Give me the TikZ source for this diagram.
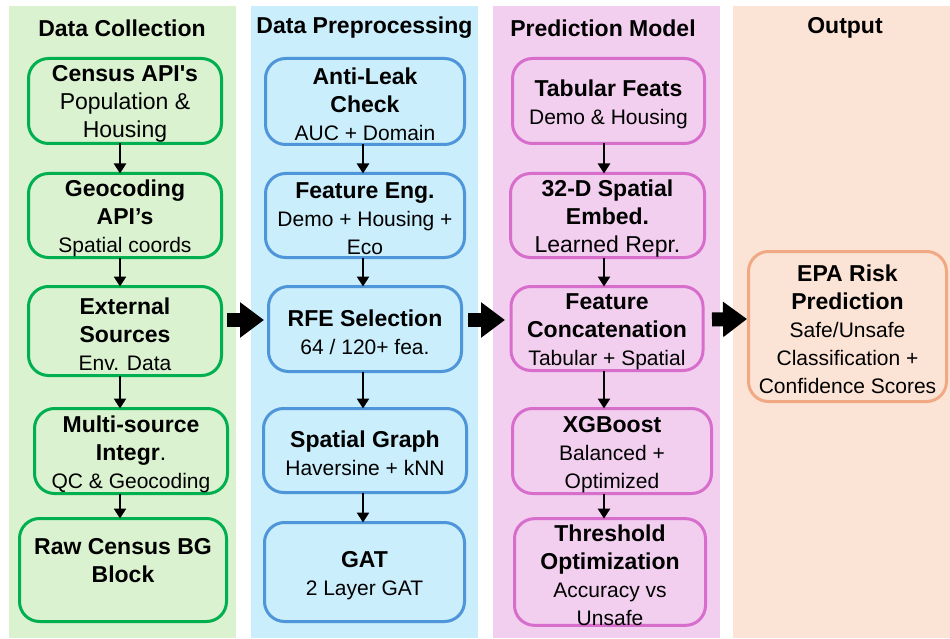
\documentclass[tikz,border=0pt]{standalone}
\usepackage{fontspec}
\newfontfamily\arial{Liberation Sans}
\usetikzlibrary{arrows.meta,calc}
\definecolor{gfill}{HTML}{DAF2D0}
\definecolor{gline}{HTML}{00B050}
\definecolor{bfill}{HTML}{CAEEFB}
\definecolor{bline}{HTML}{4E95D9}
\definecolor{pfill}{HTML}{F2CEEF}
\definecolor{pline}{HTML}{D86ECC}
\definecolor{ofill}{HTML}{FBE3D6}
\definecolor{oline}{HTML}{F1A983}
\newcommand{\hb}[1]{{\bfseries\fontsize{23}{28}\selectfont\rule{0pt}{22.5pt}#1}}
\newcommand{\lgt}[1]{{\fontsize{23}{28}\selectfont #1}}
\tikzset{
  colbg/.style={fill=#1, draw=none},
  box/.style={draw=#1, line width=3pt, rounded corners=20pt, align=center,
    inner sep=0pt, outer sep=0pt, font=\arial\fontsize{21}{28}\selectfont},
  ttl/.style={font=\arial\bfseries\fontsize{23}{27}\selectfont, inner sep=0pt},
  arr/.style={line width=2.5pt, -{Triangle[length=10pt,width=12pt]}},
  big/.style={line width=14pt, -{Triangle[length=24pt,width=34pt]}},
}
\begin{document}
\begin{tikzpicture}[x=1pt,y=-1pt]
\useasboundingbox (0,0) rectangle (950,639);
% column backgrounds
\fill[colbg=gfill] (9,6) rectangle (236,638);
\fill[colbg=bfill] (251,6) rectangle (478,638);
\fill[colbg=pfill] (493,6) rectangle (720,638);
\fill[colbg=ofill] (733,6) rectangle (950,638);
% titles
\node[ttl] (t1) at (122,28) {Data Collection};
\node[ttl] (t2) at (364.5,28) {Data Preprocessing};
\node[ttl] (t3) at (603,28) {Prediction Model};
\node[ttl] (t4) at (845,28) {Output};
% column 1
\node[box=gline, minimum width=193pt, minimum height=85pt] (c1) at (125,101) {\hb{Census API's}\\\lgt{Population \&}\\\lgt{Housing}};
\node[box=gline, minimum width=193pt, minimum height=84pt] (c2) at (125,215.5) {\hb{Geocoding}\\\hb{API’s}\\Spatial coords};
\node[box=gline, minimum width=193pt, minimum height=89pt] (c3) at (125,331) {\hb{External}\\\hb{Sources}\\Env. Data};
\node[box=gline, minimum width=193pt, minimum height=85pt] (c4) at (131,451) {\hb{Multi-source}\\\hb{Integr}\lgt{.}\\QC \& Geocoding};
\node[box=gline, minimum width=207pt, minimum height=103pt] (c5) at (123,570) {\hb{Raw Census BG}\\\hb{Block}\rule[-25pt]{0pt}{0pt}};
% column 2
\node[box=bline, minimum width=199pt, minimum height=86pt] (p1) at (365,101.5) {\hb{Anti-Leak}\\\hb{Check}\\AUC + Domain};
\node[box=bline, minimum width=199pt, minimum height=84pt] (p2) at (365,215.5) {\hb{Feature Eng.}\\Demo + Housing +\\Eco};
\node[box=bline, minimum width=193pt, minimum height=85pt] (p3) at (365,329) {\hb{RFE Selection}\\64 / 120+ fea.};
\node[box=bline, minimum width=203pt, minimum height=84pt] (p4) at (365,450.5) {\hb{Spatial Graph}\\Haversine + kNN};
\node[box=bline, minimum width=200pt, minimum height=99pt] (p5) at (364.5,572) {\hb{GAT}\\2 Layer GAT};
% column 3
\node[box=pline, minimum width=192pt, minimum height=85pt] (m1) at (608.5,101) {\hb{Tabular Feats}\\Demo \& Housing};
\node[box=pline, minimum width=194pt, minimum height=84pt] (m2) at (607.5,215.5) {\hb{32-D Spatial}\\\hb{Embed.}\\\lgt{Learned Repr.}};
\node[box=pline, minimum width=192pt, minimum height=84pt] (m3) at (607,328.5) {\hb{Feature}\\\hb{Concatenation}\\Tabular + Spatial};
\node[box=pline, minimum width=199pt, minimum height=85pt] (m4) at (612,451) {\hb{XGBoost}\\Balanced +\\Optimized};
\node[box=pline, minimum width=191pt, minimum height=99pt] (m5) at (610,572) {\hb{Threshold}\\\hb{Optimization}\\Accuracy vs\\Unsafe};
% output
\node[box=oline, minimum width=198pt, minimum height=150pt] (o1) at (847.5,326.5) {\hb{EPA Risk}\\\hb{Prediction}\\Safe/Unsafe\\Classification +\\Confidence Scores};
% axes for vertical arrows
\coordinate (ax1) at (120,0);
\coordinate (ax2) at (363,0);
\coordinate (ax3) at (604,0);
\foreach \a/\b in {c1/c2,c2/c3,c3/c4,c4/c5}{\draw[arr] (\a.south -| ax1) -- (\b.north -| ax1);}
\foreach \a/\b in {p1/p2,p2/p3,p3/p4,p4/p5}{\draw[arr] (\a.south -| ax2) -- (\b.north -| ax2);}
\foreach \a/\b in {m1/m2,m2/m3,m3/m4,m4/m5}{\draw[arr] (\a.south -| ax3) -- (\b.north -| ax3);}
% big arrows
\draw[big] ([xshift=5.5pt,yshift=11pt]c3.east) -- ([xshift=-4.5pt,yshift=9pt]p3.west);
\draw[big] ([xshift=6.5pt,yshift=9pt]p3.east) -- ([xshift=-6pt,yshift=8.5pt]m3.west);
\draw[big] ([xshift=9pt,yshift=9pt]m3.east) -- ([xshift=-1.5pt,yshift=7.5pt]o1.west);
\end{tikzpicture}
\end{document}
